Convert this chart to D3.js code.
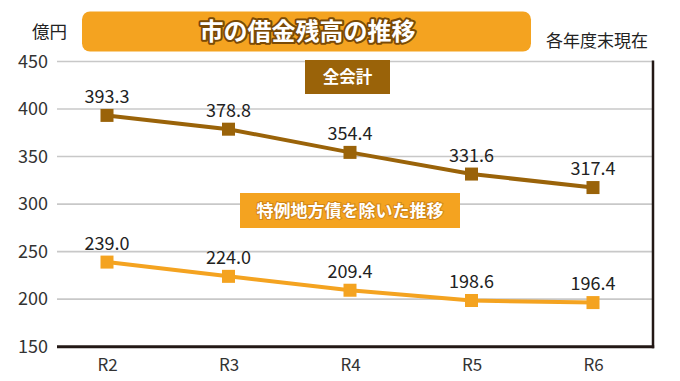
<!DOCTYPE html>
<html><head><meta charset="utf-8">
<script src="https://cdn.jsdelivr.net/npm/d3@7/dist/d3.min.js"></script>
<style>body{margin:0;background:#fff}svg{display:block}text{font-family:"Noto Sans CJK JP","Noto Sans",sans-serif}</style>
</head><body><svg id="c" width="680" height="381"></svg>
<script>
const categories = ["R2","R3","R4","R5","R6"];
const totalValues = [393.3, 378.8, 354.4, 331.6, 317.4];
const excludingValues = [239.0, 224.0, 209.4, 198.6, 196.4];
const yTicks = [150, 200, 250, 300, 350, 400, 450];

const svg = d3.select("#c");
const L = 57, R = 653, T = 61.5, B = 346.7;
const x = d3.scalePoint().domain(categories).range([107, 593]);
const y = d3.scaleLinear().domain([150, 450]).range([B, T]);
const dark = "#9a6309", light = "#f4a320";
const numFont = "'Noto Sans','DejaVu Sans',sans-serif";

// grid
svg.append("g").selectAll("line").data(yTicks.filter(d => d > 150)).join("line")
  .attr("x1", L).attr("x2", R).attr("y1", d => y(d)).attr("y2", d => y(d))
  .attr("stroke", "#c8c8c8").attr("stroke-width", 1.6);

// y labels
const yAxis = d3.axisLeft(y).tickValues(yTicks).tickSize(0).tickPadding(9);
const ya = svg.append("g").attr("transform", `translate(${L},0)`).call(yAxis);
ya.select(".domain").remove();
ya.selectAll("text").attr("font-size", 18).attr("fill", "#333").attr("font-family", numFont);

// x labels
const xAxis = d3.axisBottom(x).tickSize(0).tickPadding(12);
const xa = svg.append("g").attr("transform", `translate(0,${B})`).call(xAxis);
xa.select(".domain").remove();
xa.selectAll("text").attr("font-size", 17).attr("fill", "#333").attr("font-family", numFont);

// frame
svg.append("line").attr("x1", R).attr("x2", R).attr("y1", T - 1).attr("y2", B + 1.5).attr("stroke", "#231815").attr("stroke-width", 2.5);
svg.append("line").attr("x1", L).attr("x2", R + 1.2).attr("y1", B).attr("y2", B).attr("stroke", "#231815").attr("stroke-width", 3);

function series(vals, color) {
  const g = svg.append("g");
  g.append("path").datum(vals)
    .attr("d", d3.line().x((d, i) => x(categories[i])).y(d => y(d)))
    .attr("fill", "none").attr("stroke", color).attr("stroke-width", 4);
  g.selectAll("rect").data(vals).join("rect")
    .attr("x", (d, i) => x(categories[i]) - 6.5).attr("y", d => y(d) - 6.5)
    .attr("width", 13).attr("height", 13).attr("fill", color);
  g.selectAll("text").data(vals).join("text")
    .attr("x", (d, i) => x(categories[i])).attr("y", d => y(d) - 12.5)
    .attr("text-anchor", "middle").attr("font-size", 18).attr("fill", "#222")
    .attr("font-family", numFont)
    .text(d => d.toFixed(1));
}
series(totalValues, dark);
series(excludingValues, light);

// title box
svg.append("rect").attr("x", 82).attr("y", 11.5).attr("width", 449).attr("height", 40).attr("rx", 8).attr("fill", "#f4a320");
svg.append("text").attr("x", 307.5).attr("y", 40).attr("text-anchor", "middle").attr("font-size", 24).attr("font-weight", "bold")
  .attr("fill", "#fff").attr("stroke", "#7a4a06").attr("stroke-width", 4).attr("paint-order", "stroke").attr("stroke-linejoin", "round")
  .text("市の借金残高の推移");
svg.append("text").attr("x", 32).attr("y", 38).attr("font-size", 17.5).attr("fill", "#222").text("億円");
svg.append("text").attr("x", 648).attr("y", 47).attr("text-anchor", "end").attr("font-size", 17).attr("fill", "#222").text("各年度末現在");

// legend labels
svg.append("rect").attr("x", 305).attr("y", 60).attr("width", 85).attr("height", 34).attr("fill", dark);
svg.append("text").attr("x", 347.5).attr("y", 83).attr("text-anchor", "middle").attr("font-size", 16.5).attr("font-weight", "bold").attr("fill", "#fff").text("全会計");
svg.append("rect").attr("x", 240).attr("y", 193).attr("width", 220).attr("height", 35).attr("fill", light);
svg.append("text").attr("x", 350).attr("y", 216.5).attr("text-anchor", "middle").attr("font-size", 17).attr("font-weight", "bold").attr("fill", "#fff")
  .attr("stroke", "#b06a10").attr("stroke-width", 2).attr("stroke-opacity", 0.5).attr("paint-order", "stroke").text("特例地方債を除いた推移");
</script></body></html>
